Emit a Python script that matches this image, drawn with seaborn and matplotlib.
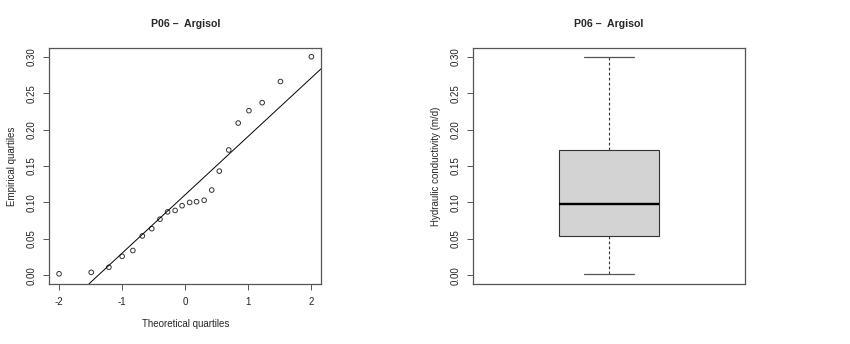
import numpy as np
import matplotlib
matplotlib.use("Agg")
import matplotlib.pyplot as plt
import seaborn as sns

# values
title = "P06 \u2013  Argisol"
theoretical = [-2.00, -1.49, -1.21, -1.00, -0.83, -0.68, -0.53, -0.40, -0.28, -0.16, -0.05,
               0.07, 0.18, 0.30, 0.42, 0.54, 0.69, 0.84, 1.01, 1.22, 1.51, 2.00]
empirical = [0.002, 0.004, 0.011, 0.026, 0.034, 0.054, 0.064, 0.077, 0.087, 0.089, 0.0955,
             0.100, 0.101, 0.103, 0.117, 0.143, 0.172, 0.209, 0.226, 0.237, 0.266, 0.300]
y_ticks = [0.00, 0.05, 0.10, 0.15, 0.20, 0.25, 0.30]
x_ticks = [-2, -1, 0, 1, 2]

sns.set_style("white")
plt.rcParams["font.family"] = ["Liberation Sans", "DejaVu Sans"]
plt.rcParams["font.size"] = 7

edge = "#555555"

fig = plt.figure(figsize=(8.5, 3.44), dpi=100)
ax1 = fig.add_axes([0.0576, 0.1744, 0.3206, 0.686])
ax2 = fig.add_axes([0.5565, 0.1744, 0.320, 0.686])

# Normal QQ plot
sns.scatterplot(x=theoretical, y=empirical, ax=ax1, marker="o", s=11,
                facecolor="none", edgecolor="#333333", linewidth=0.7)
emp = np.array(empirical)
q1, q3 = np.quantile(emp, [0.25, 0.75])
z = 0.6744898
slope = (q3 - q1) / (2 * z)
intercept = (q1 + q3) / 2
ax1.axline((0, intercept), slope=slope, color="black", lw=0.7)
ax1.set_xlim(-2.16, 2.16)
ax1.set_ylim(-0.012, 0.312)
ax1.set_xticks(x_ticks)
ax1.set_xticklabels([str(t) if t >= 0 else "-" + str(-t) for t in x_ticks])
ax1.set_yticks(y_ticks)
ax1.set_yticklabels([f"{t:.2f}" for t in y_ticks], rotation=90, va="center")
ax1.set_xlabel("Theoretical quartiles", labelpad=9)
ax1.set_ylabel("Empirical quartiles", labelpad=7)
ax1.set_title(title, fontweight="bold", fontsize=7.6, pad=15)

# boxplot with Tukey hinges (fivenum)
s = np.sort(emp)
n = len(s)
half = (n + 1) // 2
stats = [{
    "med": np.median(s),
    "q1": np.median(s[:half]),
    "q3": np.median(s[n - half:]),
    "whislo": s.min(),
    "whishi": s.max(),
    "fliers": [],
}]
ax2.bxp(stats, positions=[1], widths=0.4, patch_artist=True, showfliers=False,
        boxprops=dict(facecolor="#d3d3d3", edgecolor="#333333", lw=0.8),
        medianprops=dict(color="black", lw=1.7),
        whiskerprops=dict(color="#333333", lw=0.8, linestyle=(0, (2.5, 2))),
        capprops=dict(color="#555555", lw=0.9), capwidths=0.2)
ax2.set_xlim(0.46, 1.54)
ax2.set_ylim(-0.012, 0.312)
ax2.set_xticks([])
ax2.set_yticks(y_ticks)
ax2.set_yticklabels([f"{t:.2f}" for t in y_ticks], rotation=90, va="center")
ax2.set_ylabel("Hydraulic conductivity (m/d)", labelpad=7)
ax2.set_title(title, fontweight="bold", fontsize=7.6, pad=15)

for ax in (ax1, ax2):
    for sp in ax.spines.values():
        sp.set_color(edge)
        sp.set_linewidth(0.9)
    ax.tick_params(axis="both", direction="out", length=4, width=0.7,
                   color=edge, pad=5, labelcolor="#222222", left=True, bottom=True)
ax2.tick_params(axis="x", bottom=False)

fig.savefig("out.png", dpi=100)
